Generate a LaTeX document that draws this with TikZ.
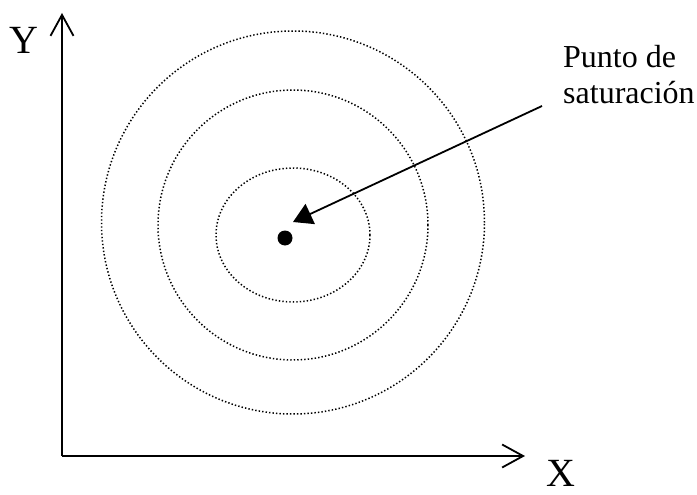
\documentclass[tikz,border=0pt]{standalone}
\usepackage{fontspec}
\setmainfont{Liberation Serif}
\usetikzlibrary{arrows.meta}
\tikzset{
  axis/.style={line width=1.8pt, -{Straight Barb[length=21pt,width=23pt,line width=1.8pt]}},
  contour/.style={line width=1.5pt, dash pattern=on 1.4pt off 2.1pt},
  pointer/.style={line width=1.8pt, -{Triangle[length=19pt,width=22pt]}},
  axlabel/.style={font=\fontsize{40}{44}\selectfont, inner sep=0pt},
  note/.style={font=\fontsize{32}{36}\selectfont, inner sep=0pt, align=left, anchor=north west},
  dotnode/.style={circle, fill=black, inner sep=0pt, minimum size=15pt}
}
\begin{document}
\begin{tikzpicture}[x={(1pt,0)}, y={(0,-1pt)}]
\useasboundingbox (0,0) rectangle (697,495);
% axes
\coordinate (origin) at (62,456);
\coordinate (ytip) at (62,13);
\coordinate (xtip) at (525,456);
\draw[axis] (origin) -- (ytip);
\draw[axis] (origin) -- (xtip);
\node[axlabel] (ylab) at (24,40) {Y};
\node[axlabel] (xlab) at (561,473) {X};
% contours
\draw[contour] (293,222.5) circle [radius=191.5pt];
\draw[contour] (293,225) circle [radius=135pt];
\draw[contour] (293,235) ellipse [x radius=77pt, y radius=67pt];
% saturation point
\node[dotnode] (dot) at (285,238) {};
\node[note] (lbl) at (563,45) {Punto de\\saturación};
\coordinate (start) at (542,106);
\coordinate (tip) at (293,222);
\draw[pointer] (start) -- (tip);
\end{tikzpicture}
\end{document}
